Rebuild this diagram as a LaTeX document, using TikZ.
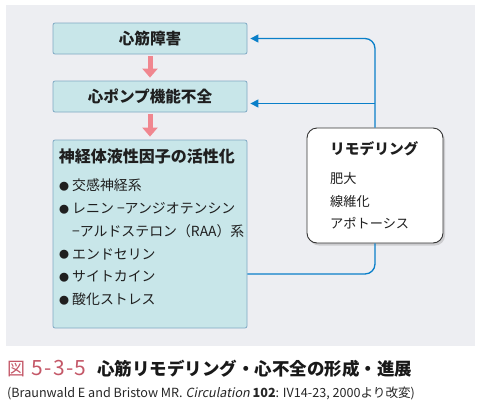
\documentclass[tikz,border=0pt]{standalone}
\usepackage{fontspec}
\setmainfont{Noto Sans CJK JP}[AutoFakeSlant=0.2]
\usepackage{xcolor}
\usetikzlibrary{arrows.meta, positioning, calc, shadows}

\definecolor{panelgray}{HTML}{EDEEF2}
\definecolor{boxfill}{HTML}{C8E6E9}
\definecolor{boxline}{HTML}{7FA9C4}
\definecolor{pinkarr}{HTML}{F0868F}
\definecolor{lineblue}{HTML}{0A7FC9}
\definecolor{figred}{HTML}{C45868}

\newcommand{\bul}{\makebox[12pt][l]{\hspace{-1pt}\raisebox{0.3pt}{\fontsize{10}{10}\selectfont ●}}}

\begin{document}
\begin{tikzpicture}[x=1pt, y=-1pt,
            box/.style={draw=boxline, fill=boxfill, rounded corners=2pt, line width=0.8pt,
                        minimum width=194pt, minimum height=31pt, text=black!88,
                        font=\fontsize{15.6}{18}\selectfont\bfseries},
            pinkarrow/.style={draw=pinkarr, line width=5pt, -{Triangle[length=9pt, width=15pt]}, shorten <=2pt, shorten >=3pt},
            flow/.style={draw=lineblue, line width=1.3pt, rounded corners=10pt},
            item/.style={anchor=west, inner sep=0pt, text=black!88, font=\fontsize{13.9}{16}\selectfont}]

            % background panel
            \useasboundingbox (0,0) rectangle (481,402);
            \fill[panelgray] (6,5) rectangle (475,346);

            % ===== left column =====
            \node[box] (injury) at (150,38.5) {心筋障害};
            \node[box, below=26.2pt of injury] (pump) {心ポンプ機能不全};
            \node[box, below=27.2pt of pump, minimum height=188pt] (neuro) {};

            \draw[pinkarrow] (injury) -- (pump);
            \draw[pinkarrow] (pump) -- (neuro);

            \node[item, font=\fontsize{16}{18}\selectfont\bfseries] (ntitle) at ([xshift=6pt, yshift=-17pt]neuro.north west) {神経体液性因子の活性化};
            \node[item] (n1) at (60,185) {\bul 交感神経系};
            \node[item] (n2) at (60,208.5) {\bul レニン −アンジオテンシン};
            \node[item] (n3) at (60,231.5) {\hspace{12pt}−アルドステロン（RAA）系};
            \node[item] (n4) at (60,254) {\bul エンドセリン};
            \node[item] (n5) at (60,276.5) {\bul サイトカイン};
            \node[item] (n6) at (60,299) {\bul 酸化ストレス};

            % ===== remodeling box =====
            \node[draw=black!80, fill=white, line width=0.9pt, rounded corners=10pt,
                  minimum width=136pt, minimum height=115pt,
                  drop shadow={shadow xshift=2pt, shadow yshift=-2.5pt, opacity=0.3}] (remod) at (375,185.5) {};
            \node[item, font=\fontsize{14.7}{17}\selectfont\bfseries] (rtitle) at (330,149) {リモデリング};
            \node[item, font=\fontsize{13.2}{16}\selectfont] (r1) at (330,178.5) {肥大};
            \node[item, font=\fontsize{13.2}{16}\selectfont] (r2) at (330,201) {線維化};
            \node[item, font=\fontsize{13.2}{16}\selectfont] (r3) at (330,223.5) {アポトーシス};

            % ===== feedback lines =====
            \coordinate (nout) at ([yshift=-40pt]neuro.east);
            \coordinate (pin) at ([yshift=-7pt]pump.east);
            \draw[flow] (nout) -| (remod.south);
            \draw[flow, -{Triangle[length=8pt, width=8pt]}, shorten >=3pt] (remod.north) |- (injury.east);
            \draw[flow, -{Triangle[length=8pt, width=8pt]}, shorten >=3pt] (remod.north |- pin) -- (pin);

            % ===== caption =====
            \node[anchor=west, inner sep=0pt, text=figred, font=\fontsize{18}{20}\selectfont] (fignum) at (7,369)
                {図\hspace{6pt}{\fontsize{21}{22}\selectfont\addfontfeatures{LetterSpace=7}5-3-5}};
            \node[anchor=west, inner sep=0pt, text=black!90, font=\fontsize{17.5}{20}\selectfont\bfseries] (figtitle) at (97,369) {心筋リモデリング・心不全の形成・進展};
            \node[anchor=west, inner sep=0pt, text=black!85, font=\fontsize{12.6}{14}\selectfont] (source) at (7,393)
                {(Braunwald E and Bristow MR. \textit{Circulation} \textbf{102}: IV14-23, 2000より改変)};
        \end{tikzpicture}
\end{document}
